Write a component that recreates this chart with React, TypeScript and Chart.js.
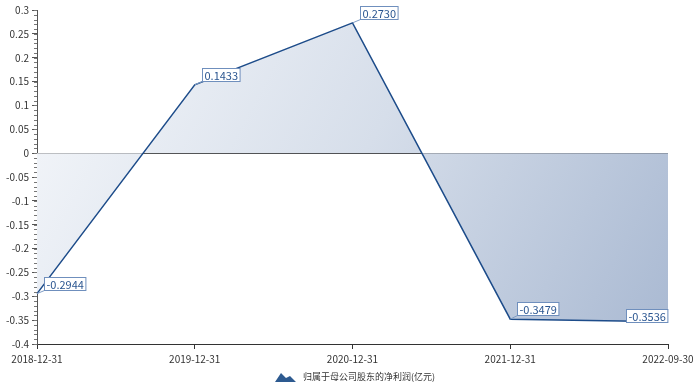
import React, { useEffect, useRef } from "react";
import { Chart, registerables } from "chart.js";

Chart.register(...registerables);

const categories = ["2018-12-31", "2019-12-31", "2020-12-31", "2021-12-31", "2022-09-30"];
const netProfit = [-0.2944, 0.1433, 0.273, -0.3479, -0.3536];
const seriesName = "归属于母公司股东的净利润(亿元)";
const labelTexts = ["-0.2944", "0.1433", "0.2730", "-0.3479", "-0.3536"];

const FONT = "'Noto Sans CJK SC', 'DejaVu Sans', sans-serif";
const LINE = "#1d4c8a";

const extrasPlugin = {
  id: "extras",
  afterDatasetsDraw(chart: any) {
    const { ctx, chartArea, scales } = chart;
    const y = scales.y;
    // minor ticks on y axis
    ctx.save();
    ctx.strokeStyle = "#777";
    ctx.lineWidth = 1;
    for (let i = 0; i <= 70; i++) {
      const v = -0.4 + i * 0.01;
      const py = Math.round(y.getPixelForValue(v)) + 0.5;
      ctx.beginPath();
      ctx.moveTo(chartArea.left - 3, py);
      ctx.lineTo(chartArea.left, py);
      ctx.stroke();
    }
    ctx.restore();

    // data labels
    const meta = chart.getDatasetMeta(0);
    ctx.save();
    ctx.font = `11px ${FONT}`;
    ctx.textBaseline = "middle";
    meta.data.forEach((pt: any, i: number) => {
      const text = labelTexts[i];
      const w = ctx.measureText(text).width + 4;
      const h = 13;
      const last = i === meta.data.length - 1;
      let bx: number, by: number;
      if (last) {
        bx = pt.x - 1 - w;
        by = pt.y - h - 0;
      } else {
        bx = pt.x + 7;
        by = pt.y - 4 - h;
      }
      bx = Math.round(bx) + 0.5;
      by = Math.round(by) + 0.5;
      if (!last) {
        ctx.strokeStyle = "#7f9cc4";
        ctx.lineWidth = 1;
        ctx.beginPath();
        ctx.moveTo(pt.x, pt.y);
        ctx.lineTo(bx, by + h);
        ctx.stroke();
      }
      ctx.fillStyle = "#ffffff";
      ctx.fillRect(bx, by, w, h);
      ctx.strokeStyle = "#6f8fbd";
      ctx.strokeRect(bx, by, w, h);
      ctx.fillStyle = "#2a5590";
      ctx.textAlign = "left";
      ctx.fillText(text, bx + 2, by + h / 2 + 0.5);
    });
    ctx.restore();

    // legend
    ctx.save();
    const lx = 275;
    const ly = 377;
    ctx.fillStyle = "#2d5a90";
    ctx.beginPath();
    ctx.moveTo(lx, ly + 5);
    ctx.lineTo(lx + 6, ly - 4);
    ctx.lineTo(lx + 11, ly + 1);
    ctx.lineTo(lx + 15, ly - 1);
    ctx.lineTo(lx + 21, ly + 5);
    ctx.closePath();
    ctx.fill();
    ctx.font = `9px ${FONT}`;
    ctx.fillStyle = "#333";
    ctx.textBaseline = "middle";
    ctx.textAlign = "left";
    ctx.fillText(seriesName, lx + 28, ly);
    ctx.restore();
  },
};

export default function App() {
  const ref = useRef<HTMLCanvasElement | null>(null);
  useEffect(() => {
    document.body.style.margin = "0";
    const canvas = ref.current!;
    const chart = new Chart(canvas, {
      type: "line",
      data: {
        labels: categories,
        datasets: [
          {
            label: seriesName,
            data: netProfit,
            borderColor: LINE,
            borderWidth: 1.5,
            pointRadius: 0,
            tension: 0,
            fill: "origin",
            backgroundColor: (c: any) => {
              const area = c.chart.chartArea;
              if (!area) return "#d0d9e7";
              const g = c.chart.ctx.createLinearGradient(area.left, area.top, area.right, area.bottom);
              g.addColorStop(0, "#f6f8fb");
              g.addColorStop(0.5, "#d6deea");
              g.addColorStop(1, "#a9b9d2");
              return g;
            },
          },
        ],
      },
      options: {
        animation: false,
        responsive: false,
        maintainAspectRatio: false,
        layout: { padding: { top: 10, right: 32, bottom: 17, left: 0 } },
        plugins: {
          legend: { display: false },
          tooltip: { enabled: false },
        },
        scales: {
          x: {
            offset: false,
            grid: {
              drawOnChartArea: false,
              drawTicks: true,
              tickLength: 5,
              color: "#333",
            },
            border: { color: "#333" },
            ticks: {
              color: "#333",
              font: { family: FONT, size: 10 },
              maxRotation: 0,
              padding: 4,
            },
            afterFit: (s: any) => {
              s.height = 24;
            },
          },
          y: {
            min: -0.4,
            max: 0.3,
            grid: {
              drawOnChartArea: true,
              drawTicks: true,
              tickLength: 5,
              color: (c: any) => (c.tick && Math.abs(c.tick.value) < 1e-9 ? "#222" : "rgba(0,0,0,0)"),
              tickColor: "#555",
            },
            border: { color: "#555" },
            ticks: {
              stepSize: 0.05,
              color: "#333",
              font: { family: FONT, size: 10 },
              padding: 3,
              callback: (v: any) => String(Math.round(Number(v) * 100) / 100),
            },
            afterFit: (s: any) => {
              s.width = 37;
            },
          },
        },
      },
      plugins: [extrasPlugin],
    } as any);
    return () => chart.destroy();
  }, []);
  return <canvas ref={ref} width={700} height={385} style={{ display: "block" }} />;
}
